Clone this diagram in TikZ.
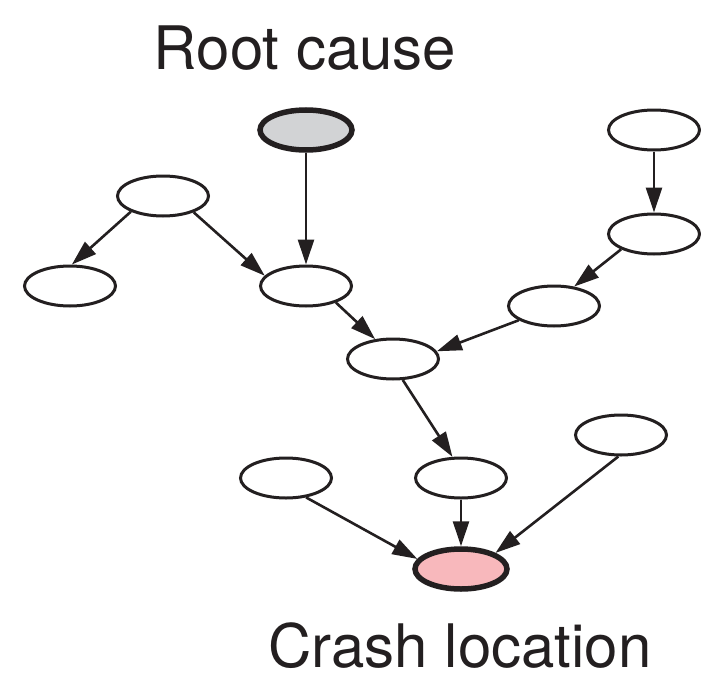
\documentclass[tikz,border=0pt]{standalone}
\usepackage{fontspec}
\setmainfont{TeX Gyre Heros}
\usetikzlibrary{shapes.geometric,arrows.meta}
\definecolor{rootgray}{RGB}{210,211,213}
\definecolor{crashpink}{RGB}{248,184,188}
\definecolor{ink}{RGB}{35,31,32}
\tikzset{
  ev/.style={ellipse, draw=ink, line width=3pt, minimum width=91pt, minimum height=40pt, inner sep=0pt, fill=white},
  keyev/.style={ellipse, draw=ink, line width=5.5pt, minimum width=92pt, minimum height=40pt, inner sep=0pt},
  lbl/.style={font=\fontsize{60}{66}\selectfont, anchor=base, text=ink, inner sep=0pt},
  arr/.style={line width=2.6pt, draw=ink, -{Triangle[length=25pt,width=16pt]}}
}
\begin{document}
\begin{tikzpicture}[x=1pt,y=-1pt]
\useasboundingbox (0,0) rectangle (701,677);
\node[lbl] (rootlbl) at (305,70) {Root cause};
\node[lbl] (crashlbl) at (460,667) {Crash location};
\node[keyev, fill=rootgray] (root) at (306,130) {};
\node[ev] (A) at (163,196) {};
\node[ev] (B) at (70,286) {};
\node[ev] (C) at (306,286) {};
\node[ev] (D) at (654,130) {};
\node[ev] (E) at (654,234) {};
\node[ev] (F) at (554,306) {};
\node[ev] (G) at (393,359) {};
\node[ev] (H) at (461,478) {};
\node[ev] (I) at (286,478) {};
\node[ev] (J) at (621,435) {};
\node[keyev, fill=crashpink] (crash) at (461,569) {};
\draw[arr] (root.south) -- (C.north);
\draw[arr] (A.206) -- (B.85);
\draw[arr] (A.-28) -- (C.166);
\draw[arr] (D.south) -- (E.north);
\draw[arr] (E.205) -- (F.44);
\draw[arr] (F.202) -- (G.10);
\draw[arr] (C.-29) -- (G.132);
\draw[arr] (G.-65) -- (H.112);
\draw[arr] (H.south) -- (crash.north);
\draw[arr] (I.-44) -- (crash.167);
\draw[arr] (J.-97) -- (crash.25);
\end{tikzpicture}
\end{document}
